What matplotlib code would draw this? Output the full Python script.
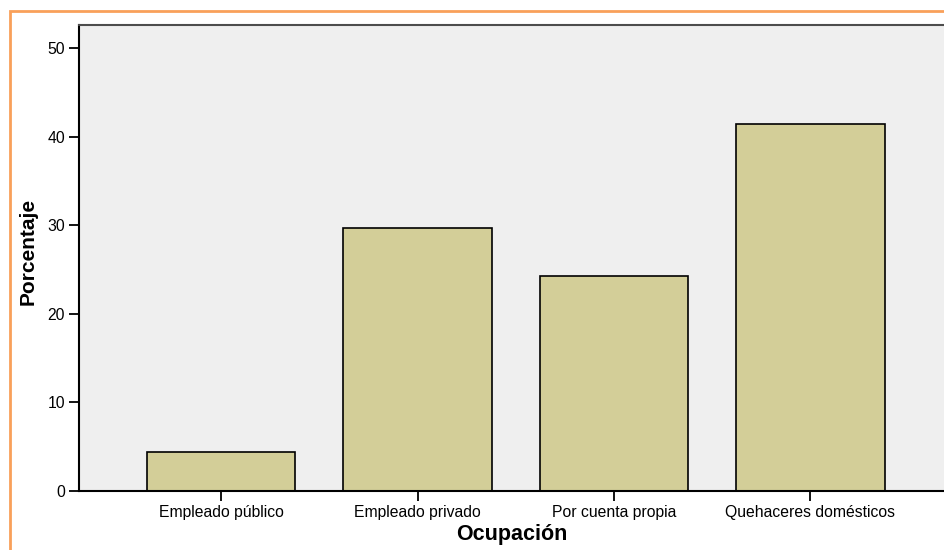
import matplotlib
matplotlib.use("Agg")
import matplotlib.pyplot as plt
from matplotlib.patches import Rectangle

categories = ["Empleado público", "Empleado privado", "Por cuenta propia", "Quehaceres domésticos"]
values = [4.4, 29.7, 24.3, 41.4]
yticks = [0, 10, 20, 30, 40, 50]

plt.rcParams['font.family'] = ['Liberation Sans', 'DejaVu Sans']

W, H = 944, 550
fig = plt.figure(figsize=(W / 100, H / 100), dpi=100)

# orange frame around the chart
fig.patches.append(Rectangle((10 / W, -0.2), 2.0, 1.2 - 11 / H,
                             transform=fig.transFigure, fill=False,
                             edgecolor='#f9a05a', linewidth=2.0, zorder=0))

left, bottom, top = 79 / W, (H - 491) / H, (H - 24.5) / H
ax = fig.add_axes([left, bottom, 1 - left, top - bottom])
ax.set_facecolor('#efefef')

x = list(range(len(categories)))
ax.bar(x, values, width=0.755, color='#d3ce98', edgecolor='black', linewidth=1.2, zorder=2)

ax.set_xlim(-0.724, 3.68)
ax.set_ylim(0, 52.65)
ax.set_yticks(yticks)
ax.set_xticks(x)
ax.set_xticklabels(categories)

for s in ['left', 'bottom']:
    ax.spines[s].set_color('black')
    ax.spines[s].set_linewidth(1.5)
ax.spines['top'].set_color('#4d4d4d')
ax.spines['top'].set_linewidth(1.5)
ax.spines['right'].set_visible(False)

ax.tick_params(axis='both', direction='out', length=7, width=1.3, color='black',
               labelsize=11.3, labelcolor='black', pad=3)

ax.set_ylabel("Porcentaje", fontsize=15, fontweight='bold')
ax.yaxis.set_label_coords(-0.048, 0.514)
ax.set_xlabel("Ocupación", fontsize=15.5, fontweight='bold', labelpad=3)

fig.savefig("out.png", dpi=100)
